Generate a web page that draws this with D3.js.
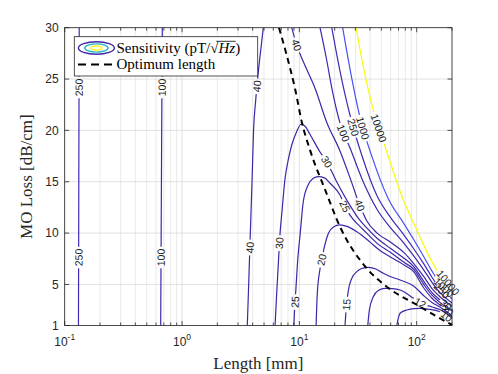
<!DOCTYPE html>
<html>
<head>
<meta charset="utf-8">
<script src="https://cdn.jsdelivr.net/npm/d3@7"></script>
<style>
body { margin: 0; background: #fff; }
</style>
</head>
<body>
<div id="chart"></div>
<script>
var W = 498, H = 374;

// contour levels (pT/sqrt(Hz)) and the parula colour each one got
var levels = [10, 12, 15, 20, 25, 30, 40, 100, 250, 1000, 10000];
var levelColors = ["#3e26a8", "#3e26a8", "#3e26a8", "#3e26a8", "#3e26a8", "#3e26a8", "#3e27a9", "#3e28ad", "#402bb7", "#4752f4", "#f9fb0e"];

// contour lines, [length mm, loss dB/cm]
var c250a = [[0.1310, 1], [0.1316, 10], [0.1322, 20], [0.1330, 30]];
var c100a = [[0.658, 1], [0.664, 10], [0.671, 20], [0.679, 30]];
var c40a = [[3.60, 1], [3.70, 5], [3.82, 10], [3.95, 15], [4.07, 20], [4.25, 23], [4.45, 25.5], [4.65, 27.5], [4.93, 30]];
var c40b = [[8.61, 30], [9.5, 28.3], [10.8, 26.7], [13.6, 24.1], [17.1, 20.8], [22.2, 18.0], [27, 15.4], [32.5, 12.8], [37.5, 11.2], [46, 10.0], [60, 9.1], [78, 8.1], [94, 7.05], [115, 5.75], [135, 4.6], [158, 3.8], [200, 2.85]];
var c100b = [[15, 30], [17, 27], [19, 24], [22.5, 20.5], [27, 18.3], [35, 15.0], [46, 12.3], [60, 10.5], [78, 9.0], [94, 7.8], [115, 6.4], [135, 5.2], [158, 4.2], [200, 3.2]];
var c250b = [[18.9, 30], [22, 26], [27, 21.5], [34, 17.6], [46, 13.6], [60, 11.5], [78, 9.8], [94, 8.5], [115, 7.0], [135, 5.7], [158, 4.6], [200, 3.6]];
var c1000 = [[23.4, 30], [27, 26], [33, 21.2], [42, 17.3], [57, 13.4], [78, 10.9], [94, 9.4], [115, 7.7], [135, 6.3], [158, 5.1], [200, 4.1]];
var c10000 = [[30.4, 30], [34.2, 26.85], [42.7, 21.98], [53.8, 18.41], [77, 13.22], [103.4, 9.98], [130, 7.54], [149, 6.4], [175, 5.5], [200, 4.7]];
var c30 = [[6.21, 1], [6.4, 4], [6.62, 7], [6.8, 9.5], [7.1, 12], [7.55, 15.3], [8.0, 17.0], [8.61, 18.58], [9.5, 19.9], [10.34, 20.6], [11.2, 20.4], [12.34, 19.6], [15, 17.9], [17.1, 16.95], [20.8, 15.0], [27, 12.7], [32.5, 11.3], [37.5, 10.5], [46, 9.5], [60, 8.5], [78, 7.55], [94, 6.75], [115, 5.3], [135, 4.2], [158, 3.5], [200, 2.6]];
var c25 = [[8.98, 1], [9.1, 2.5], [9.34, 4.5], [9.7, 7.5], [10.14, 9.81], [10.8, 13.05], [11.9, 14.7], [13.0, 15.3], [14.5, 15.49], [16.5, 15.35], [18.27, 14.85], [22.2, 13.7], [24.5, 12.6], [27, 11.75], [32.5, 10.7], [37.5, 10.0], [46, 9.0], [60, 8.1], [78, 7.15], [94, 6.5], [115, 5.0], [135, 3.95], [158, 3.25], [200, 2.4]];
var c20 = [[13.9, 1], [14.2, 4], [15.0, 6.5], [15.5, 7.4], [16.3, 8.6], [17.7, 9.98], [19.5, 10.6], [22.2, 10.8], [25.5, 10.65], [30.9, 10.13], [37.5, 9.4], [42.7, 8.84], [50, 8.2], [59.3, 7.7], [78, 6.9], [94, 6.24], [115, 4.65], [135, 3.65], [158, 3.0], [200, 2.2]];
var c15 = [[24.5, 1], [25, 2.5], [26.2, 4.46], [28, 5.6], [30.9, 6.24], [34, 6.55], [38.7, 6.67], [45, 6.5], [52, 6.08], [60, 5.75], [72.2, 5.43], [94, 4.85], [115, 3.9], [135, 3.25], [158, 2.8], [200, 1.95]];
var c12 = [[38.3, 1], [39.5, 2.5], [42.7, 3.8], [47, 4.4], [53.8, 4.62], [62, 4.6], [72.2, 4.46], [94, 3.65], [107, 3.2], [135, 2.8], [158, 2.55], [200, 1.7]];
var c10 = [[67.7, 1], [70, 1.8], [72.2, 2.19], [82.3, 2.51], [95, 2.65], [107, 2.67], [125, 2.6], [158, 2.34], [200, 1.45]];

// optimum length curve (dashed)
var optimum = [[6.71, 30], [7.81, 27.3], [9.19, 24.06], [10.5, 20.8], [12.4, 18.0], [16.6, 14.2], [22.2, 10.62], [37.5, 6.57], [55.6, 4.78], [107, 2.83], [150, 1.85], [200, 1.05]];

// where the inline contour labels sit [level, length, loss]
var labelSpots = [
	[250, 0.132, 24.2], [250, 0.1313, 7.6],
	[100, 0.675, 24.2], [100, 0.662, 7.6],
	[40, 4.47, 24.3], [40, 3.82, 8.6], [40, 9.5, 28.3], [40, 32.5, 12.7],
	[30, 6.75, 9.0], [30, 17.1, 16.95],
	[25, 9.34, 3.3], [25, 24.5, 12.6],
	[20, 15.5, 7.4], [15, 26.2, 3.0],
	[100, 23.1, 19.7], [250, 27.05, 20.2], [1000, 34.2, 20.2], [10000, 46.9, 20.2],
	[10000, 185, 5.2], [1000, 172, 4.75], [250, 165, 4.4],
	[30, 178, 3.05], [20, 185, 2.5], [12, 107, 3.2], [10, 180, 1.9]
];

var xTicks = [0.1, 1, 10, 100];
var xTickExp = ["-1", "0", "1", "2"];
var yTicks = [1, 5, 10, 15, 20, 25, 30];

var contours = [
	{level: 250, pts: c250a}, {level: 100, pts: c100a}, {level: 40, pts: c40a},
	{level: 40, pts: c40b}, {level: 100, pts: c100b}, {level: 250, pts: c250b},
	{level: 1000, pts: c1000}, {level: 10000, pts: c10000}, {level: 30, pts: c30},
	{level: 25, pts: c25}, {level: 20, pts: c20}, {level: 15, pts: c15},
	{level: 12, pts: c12}, {level: 10, pts: c10}
];

var x = d3.scaleLog().domain([0.1, 200]).range([64.7, 452]);
var y = d3.scaleLinear().domain([1, 30]).range([325.5, 27.7]);
var x0 = x.range()[0], x1 = x.range()[1], y0 = y.range()[1], y1 = y.range()[0];

var colour = d3.scaleOrdinal().domain(levels).range(levelColors);

var svg = d3.select("#chart").append("svg")
	.attr("width", W).attr("height", H)
	.style("font-family", "'Liberation Sans', Arial, sans-serif");
svg.append("rect").attr("width", W).attr("height", H).attr("fill", "#fff");

var defs = svg.append("defs");
defs.append("clipPath").attr("id", "plotArea").append("rect")
	.attr("x", x0).attr("y", y0).attr("width", x1 - x0).attr("height", y1 - y0);

// grid
var isDecade = function (t) { return Math.abs(Math.log10(t) - Math.round(Math.log10(t))) < 1e-6; };
var minorX = x.ticks().filter(function (t) { return !isDecade(t); });
var grid = svg.append("g");
grid.selectAll("line.mx").data(minorX).enter().append("line")
	.attr("x1", function (d) { return x(d); }).attr("x2", function (d) { return x(d); })
	.attr("y1", y0).attr("y2", y1).attr("stroke", "#e4e4e4").attr("stroke-width", 0.8);
grid.selectAll("line.gx").data(xTicks).enter().append("line")
	.attr("x1", function (d) { return x(d); }).attr("x2", function (d) { return x(d); })
	.attr("y1", y0).attr("y2", y1).attr("stroke", "#d9d9d9").attr("stroke-width", 0.8);
grid.selectAll("line.gy").data(yTicks).enter().append("line")
	.attr("y1", function (d) { return y(d); }).attr("y2", function (d) { return y(d); })
	.attr("x1", x0).attr("x2", x1).attr("stroke", "#d9d9d9").attr("stroke-width", 0.8);

// contour lines
var line = d3.line()
	.x(function (d) { return x(d[0]); })
	.y(function (d) { return y(d[1]); })
	.curve(d3.curveMonotoneX);

var gc = svg.append("g").attr("clip-path", "url(#plotArea)");
contours.forEach(function (c, i) {
	c.mask = defs.append("mask").attr("id", "gap" + i)
		.attr("maskUnits", "userSpaceOnUse").attr("x", 0).attr("y", 0).attr("width", W).attr("height", H);
	c.mask.append("rect").attr("width", W).attr("height", H).attr("fill", "#fff");
	c.node = gc.append("path").datum(c.pts)
		.attr("d", line)
		.attr("fill", "none")
		.attr("stroke", colour(c.level))
		.attr("stroke-width", 1.2)
		.attr("mask", "url(#gap" + i + ")")
		.node();
});

gc.append("path").datum(optimum)
	.attr("d", line)
	.attr("fill", "none")
	.attr("stroke", "#000")
	.attr("stroke-width", 2)
	.attr("stroke-dasharray", "6,4.5");

// inline labels, each one cuts a gap in its own line
var gl = svg.append("g").style("font-size", "10.5px").attr("fill", "#1a1a1a");
labelSpots.forEach(function (l) {
	var px = x(l[1]), py = y(l[2]), best = null;
	contours.filter(function (c) { return c.level === l[0]; }).forEach(function (c) {
		var len = c.node.getTotalLength();
		for (var s = 0; s <= len; s += 0.5) {
			var p = c.node.getPointAtLength(s);
			var d = (p.x - px) * (p.x - px) + (p.y - py) * (p.y - py);
			if (!best || d < best.d) best = {d: d, s: s, c: c, p: p};
		}
	});
	if (!best) return;
	var n = best.c.node, len = n.getTotalLength();
	var a = n.getPointAtLength(Math.max(0, best.s - 5));
	var b = n.getPointAtLength(Math.min(len, best.s + 5));
	var ang = Math.atan2(b.y - a.y, b.x - a.x) * 180 / Math.PI;
	if (ang > 90) ang -= 180;
	if (ang <= -90) ang += 180;
	var tf = "translate(" + best.p.x + "," + best.p.y + ") rotate(" + ang + ")";
	var t = gl.append("text").attr("transform", tf)
		.attr("text-anchor", "middle").attr("dy", "0.36em").text(l[0]);
	var w = t.node().getComputedTextLength();
	best.c.mask.append("rect").attr("transform", tf)
		.attr("x", -w / 2 - 2).attr("y", -5).attr("width", w + 4).attr("height", 10).attr("fill", "#000");
});

// axes box and ticks
var axc = "#262626";
var ga = svg.append("g").attr("stroke", axc).attr("stroke-width", 0.8);
ga.append("rect").attr("x", x0).attr("y", y0).attr("width", x1 - x0).attr("height", y1 - y0).attr("fill", "none");
[[xTicks, 4.5], [minorX, 3]].forEach(function (set) {
	set[0].forEach(function (t) {
		ga.append("line").attr("x1", x(t)).attr("x2", x(t)).attr("y1", y1).attr("y2", y1 - set[1]);
		ga.append("line").attr("x1", x(t)).attr("x2", x(t)).attr("y1", y0).attr("y2", y0 + set[1]);
	});
});
yTicks.forEach(function (t) {
	ga.append("line").attr("x1", x0).attr("x2", x0 + 4.5).attr("y1", y(t)).attr("y2", y(t));
	ga.append("line").attr("x1", x1).attr("x2", x1 - 4.5).attr("y1", y(t)).attr("y2", y(t));
});

var gt = svg.append("g").attr("fill", axc).style("font-size", "12px");
gt.selectAll("text.yt").data(yTicks).enter().append("text")
	.attr("x", x0 - 6).attr("y", function (d) { return y(d); })
	.attr("dy", "0.35em").attr("text-anchor", "end").text(function (d) { return d; });
xTicks.forEach(function (t, i) {
	var tx = gt.append("text").attr("x", x(t)).attr("y", y1 + 20).attr("text-anchor", "middle");
	tx.append("tspan").text("10");
	tx.append("tspan").attr("dy", -5.5).style("font-size", "8.5px").text(xTickExp[i]);
});

// axis titles (LaTeX look)
var serif = "'Liberation Serif', 'Times New Roman', serif";
svg.append("text").attr("x", (x0 + x1) / 2).attr("y", 369).attr("text-anchor", "middle")
	.style("font-family", serif).style("font-size", "17px").attr("fill", axc).text("Length [mm]");
svg.append("text").attr("transform", "translate(32," + ((y0 + y1) / 2) + ") rotate(-90)")
	.attr("text-anchor", "middle")
	.style("font-family", serif).style("font-size", "17px").attr("fill", axc).text("MO Loss [dB/cm]");

// legend
var lg = svg.append("g");
lg.append("rect").attr("x", 74.3).attr("y", 36.7).attr("width", 183.4).attr("height", 39.3)
	.attr("fill", "#fff").attr("stroke", axc).attr("stroke-width", 0.8);
[[18, 6.3, "#3e26a8"], [11.6, 4.1, "#1fb4c4"], [5.5, 2, "#f9fb0e"]].forEach(function (e) {
	lg.append("ellipse").attr("cx", 96.4).attr("cy", 48).attr("rx", e[0]).attr("ry", e[1])
		.attr("fill", "none").attr("stroke", e[2]).attr("stroke-width", 1.4);
});
lg.append("line").attr("x1", 78).attr("x2", 115).attr("y1", 64.5).attr("y2", 64.5)
	.attr("stroke", "#000").attr("stroke-width", 2).attr("stroke-dasharray", "8,5");
var lt = lg.append("text").attr("x", 116.5).attr("y", 52.5)
	.style("font-family", serif).style("font-size", "15px").attr("fill", "#000");
lt.append("tspan").text("Sensitivity (pT/\u221A");
lt.append("tspan").style("font-style", "italic").text("Hz");
lt.append("tspan").text(")");
var ln = lt.node();
var k = "Sensitivity (pT/\u221A".length;
var ex = ln.getEndPositionOfChar(k + 1).x;
lg.append("line").attr("x1", ln.getStartPositionOfChar(k - 1).x + 6).attr("x2", ex + 0.5)
	.attr("y1", 41.3).attr("y2", 41.3).attr("stroke", "#000").attr("stroke-width", 0.8);
lg.append("text").attr("x", 116.5).attr("y", 68.5)
	.style("font-family", serif).style("font-size", "15px").attr("fill", "#000").text("Optimum length");
</script>
</body>
</html>
